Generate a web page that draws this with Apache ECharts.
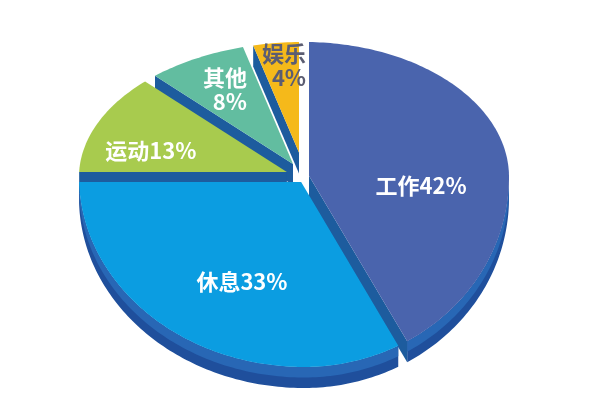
<!DOCTYPE html>
<html>
<head>
<meta charset="utf-8">
<script src="https://cdn.jsdelivr.net/npm/echarts@6/dist/echarts.min.js"></script>
<style>
  html, body { margin: 0; padding: 0; background: #fff; }
  #chart { width: 595px; height: 420px; }
</style>
</head>
<body>
<div id="chart"></div>
<script>
// 数据
const categories = ['工作', '休息', '运动', '其他', '娱乐'];
const values = [42, 33, 13, 8, 4];
const labelTexts = ['工作42%', '休息33%', '运动13%', '其他\n8%', '娱乐\n4%'];

// 样式
const topColors = ['#4a64ad', '#0b9de1', '#a8cb4e', '#62bda0', '#f5b91a'];
const labelColors = ['#ffffff', '#ffffff', '#ffffff', '#ffffff', '#5b5d72'];
// 标签位置: [角度, 半径比例, 对齐方式]
const labelPlace = [
    [94.7, 0.573, 'center'],
    [206.5, 0.618, 'center'],
    [285.8, 0.707, 'center'],
    [338.5, 0.692, 'right'],
    [0.7, 0.822, 'right']
];
// 椭圆饼图几何参数 (像素)
const geo = { cx: 304, cy: 177, rxL: 225, rxR: 205, ryB: 135, ryF: 190, depth: 21, gap: 5 };

const total = values.reduce((a, b) => a + b, 0);
const startAngles = [];
let acc = 0;
values.forEach(v => { startAngles.push(acc / total * 360); acc += v; });

// 角度从正上方顺时针
function proj(deg, r) {
    const t = deg * Math.PI / 180;
    const X = r * Math.sin(t), Y = r * Math.cos(t);
    return [geo.cx + X * (X < 0 ? geo.rxL : geo.rxR), geo.cy - Y * (Y > 0 ? geo.ryB : geo.ryF)];
}

function signedArea(pts) {
    let s = 0;
    for (let i = 0; i < pts.length; i++) {
        const p = pts[i], q = pts[(i + 1) % pts.length];
        s += p[0] * q[1] - q[0] * p[1];
    }
    return s / 2;
}

function sliceGeom(i) {
    const a0 = startAngles[i], a1 = a0 + values[i] / total * 360;
    const A = [geo.cx, geo.cy];
    const M = proj((a0 + a1) / 2, 0.5);
    const g = geo.gap;

    const edgeInfo = deg => {
        const p = proj(deg, 1);
        const len = Math.hypot(p[0] - A[0], p[1] - A[1]);
        const e = [(p[0] - A[0]) / len, (p[1] - A[1]) / len];
        let n = [-e[1], e[0]];
        if (n[0] * (M[0] - A[0]) + n[1] * (M[1] - A[1]) < 0) n = [-n[0], -n[1]];
        return { e, n };
    };
    const E0 = edgeInfo(a0), E1 = edgeInfo(a1);

    // 两条内缩边的交点 = 新顶点
    const rx = g * (E1.n[0] - E0.n[0]), ry = g * (E1.n[1] - E0.n[1]);
    const det = -E0.e[0] * E1.e[1] + E1.e[0] * E0.e[1];
    const s = (-rx * E1.e[1] + E1.e[0] * ry) / det;
    const apex = [A[0] + g * E0.n[0] + s * E0.e[0], A[1] + g * E0.n[1] + s * E0.e[1]];

    const dist = (deg, E) => {
        const p = proj(deg, 1);
        return (p[0] - A[0]) * E.n[0] + (p[1] - A[1]) * E.n[1];
    };
    const solve = (inside, outside, E) => {
        let lo = inside, hi = outside;
        for (let k = 0; k < 40; k++) {
            const mid = (lo + hi) / 2;
            if (dist(mid, E) < g) lo = mid; else hi = mid;
        }
        return (lo + hi) / 2;
    };
    const mid = (a0 + a1) / 2;
    const b0 = solve(a0, mid, E0);
    const b1 = solve(a1, mid, E1);

    const arc = (from, to) => {
        const n = Math.max(2, Math.ceil(Math.abs(to - from)));
        const pts = [];
        for (let k = 0; k <= n; k++) pts.push(proj(from + (to - from) * k / n, 1));
        return pts;
    };
    return { apex, b0, b1, arc };
}

const down = (p, h) => [p[0], p[1] + h];

function renderSlice(params, api) {
    const i = api.value(0);
    const rank = params.dataIndex;
    const { apex, b0, b1, arc } = sliceGeom(i);
    const h = geo.depth;
    const children = [];
    let z = rank * 10;

    // 外侧面
    const lo = Math.max(b0, 90), hi = Math.min(b1, 270);
    if (hi > lo) {
        const topArc = arc(lo, hi);
        children.push({
            type: 'polygon', z2: z++,
            shape: { points: topArc.concat(topArc.map(p => down(p, h)).reverse()) },
            style: { fill: '#1f4f9c' }
        });
        children.push({
            type: 'polygon', z2: z++,
            shape: { points: topArc.concat(topArc.map(p => down(p, h * 0.5)).reverse()) },
            style: { fill: '#2867b5' }
        });
    }

    // 径向侧面
    const p0 = proj(b0, 1), p1 = proj(b1, 1);
    const q0 = [apex, p0, down(p0, h), down(apex, h)];
    const q1 = [p1, apex, down(apex, h), down(p1, h)];
    [q0, q1].forEach(q => {
        if (signedArea(q) < -1) {
            children.push({ type: 'polygon', z2: z++, shape: { points: q }, style: { fill: '#1d5c9e' } });
        }
    });

    // 顶面
    children.push({
        type: 'polygon', z2: z++,
        shape: { points: [apex].concat(arc(b0, b1)) },
        style: { fill: topColors[i] }
    });
    return { type: 'group', children };
}

function renderLabel(params, api) {
    const i = api.value(0);
    const lp = labelPlace[i];
    const p = proj(lp[0], lp[1]);
    return {
        type: 'text', x: p[0], y: p[1], z2: 100,
        style: {
            text: labelTexts[i],
            fill: labelColors[i],
            fontSize: 22,
            fontWeight: 'bold',
            fontFamily: '"Noto Sans CJK SC", sans-serif',
            lineHeight: 24,
            align: lp[2],
            verticalAlign: 'middle'
        }
    };
}

// 由后往前绘制
const order = categories.map((c, i) => i)
    .sort((a, b) => {
        const ma = startAngles[a] + values[a] / total * 180;
        const mb = startAngles[b] + values[b] / total * 180;
        return Math.cos(mb * Math.PI / 180) - Math.cos(ma * Math.PI / 180);
    });

const chart = echarts.init(document.getElementById('chart'));
chart.setOption({
    animation: false,
    backgroundColor: '#ffffff',
    series: [
        {
            type: 'custom',
            coordinateSystem: 'none',
            silent: true,
            renderItem: renderSlice,
            data: order.map(i => ({ name: categories[i], value: [i, values[i]] }))
        },
        {
            type: 'custom',
            coordinateSystem: 'none',
            silent: true,
            z: 5,
            renderItem: renderLabel,
            data: categories.map((c, i) => ({ name: c, value: [i, values[i]] }))
        }
    ]
});
window.addEventListener('resize', () => chart.resize());
</script>
</body>
</html>
